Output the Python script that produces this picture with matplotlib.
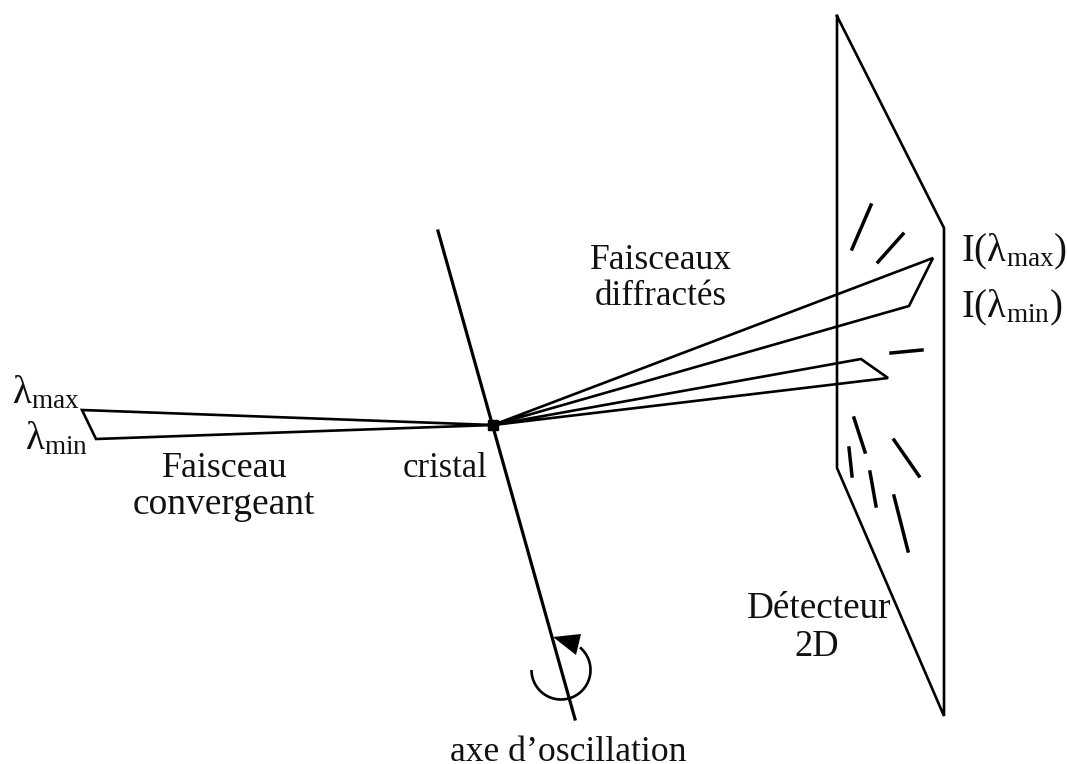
import numpy as np
import matplotlib
matplotlib.use("Agg")
import matplotlib.pyplot as plt
from matplotlib.patches import Arc, Polygon

plt.rcParams['font.family'] = ['Liberation Serif', 'DejaVu Serif']
plt.rcParams['mathtext.fontset'] = 'custom'
plt.rcParams['mathtext.rm'] = 'Liberation Serif'
plt.rcParams['mathtext.it'] = 'Liberation Serif'
plt.rcParams['mathtext.default'] = 'rm'

# everything in pixels
detector_x = [837, 944, 944, 837, 837]
detector_y = [16, 228, 716, 468, 16]

incoming_x = [493, 82, 96, 493]
incoming_y = [425, 410, 439, 425]

diff1_x = [493, 933, 909, 493]
diff1_y = [425, 258, 306, 425]
diff2_x = [493, 861, 888, 493]
diff2_y = [425, 359, 378, 425]

axis_x = [438, 575]
axis_y = [231, 719]

spots = [
    ((871, 852), (205, 249)),
    ((903, 878), (234, 262)),
    ((891, 922), (353, 350)),
    ((854, 865), (418, 452)),
    ((849, 852), (448, 476)),
    ((870, 876), (472, 506)),
    ((894, 919), (440, 476)),
    ((894, 908), (496, 551)),
]

crystal_xy = (493, 425)
rot_center = (561, 670)
rot_radius = 29.5
arrow_head = [(553, 637), (581, 634), (576, 655)]

labels = [
    (162, 477, 'Faisceau', 'left', 25.9),
    (224, 514, 'convergeant', 'center', 27),
    (403, 477, 'cristal', 'left', 24.9),
    (660.5, 269, 'Faisceaux', 'center', 25.7),
    (661, 305, 'diffractés', 'center', 25.2),
    (747, 618, 'Détecteur', 'left', 26.8),
    (817, 656, '2D', 'center', 26.3),
    (568, 761, 'axe d’oscillation', 'center', 25.7),
    (12, 403, r'$λ_{max}$', 'left', 28),
    (25, 449, r'$λ_{min}$', 'left', 28),
    (961, 261, r'I($λ_{max}$)', 'left', 28),
    (961, 317, r'I($λ_{min}$)', 'left', 28),
]

fig = plt.figure(figsize=(10.67, 7.64), dpi=100)
ax = fig.add_axes([0, 0, 1, 1])
ax.set_xlim(0, 1067)
ax.set_ylim(764, 0)
ax.axis('off')

ax.plot(detector_x, detector_y, color='black', lw=1.9, solid_joinstyle='miter')
ax.plot(incoming_x, incoming_y, color='black', lw=1.9, solid_joinstyle='miter')
ax.plot(diff1_x, diff1_y, color='black', lw=1.9, solid_joinstyle='miter')
ax.plot(diff2_x, diff2_y, color='black', lw=1.9, solid_joinstyle='miter')
ax.plot(axis_x, axis_y, color='black', lw=2.3)

for sx, sy in spots:
    ax.plot(sx, sy, color='black', lw=2.5)

ax.plot(crystal_xy[0], crystal_xy[1], marker='s', ms=7, color='black')

# y axis is inverted so angles run clockwise on screen from +x
ax.add_patch(Arc(rot_center, 2 * rot_radius, 2 * rot_radius, theta1=-50, theta2=180,
                 color='black', lw=1.9))
ax.add_patch(Polygon(arrow_head, closed=True, color='black', lw=0))

for x, y, s, ha, fs in labels:
    ax.text(x, y, s, fontsize=fs, ha=ha, va='baseline', color='#111111')

fig.savefig('out.png', dpi=100)
